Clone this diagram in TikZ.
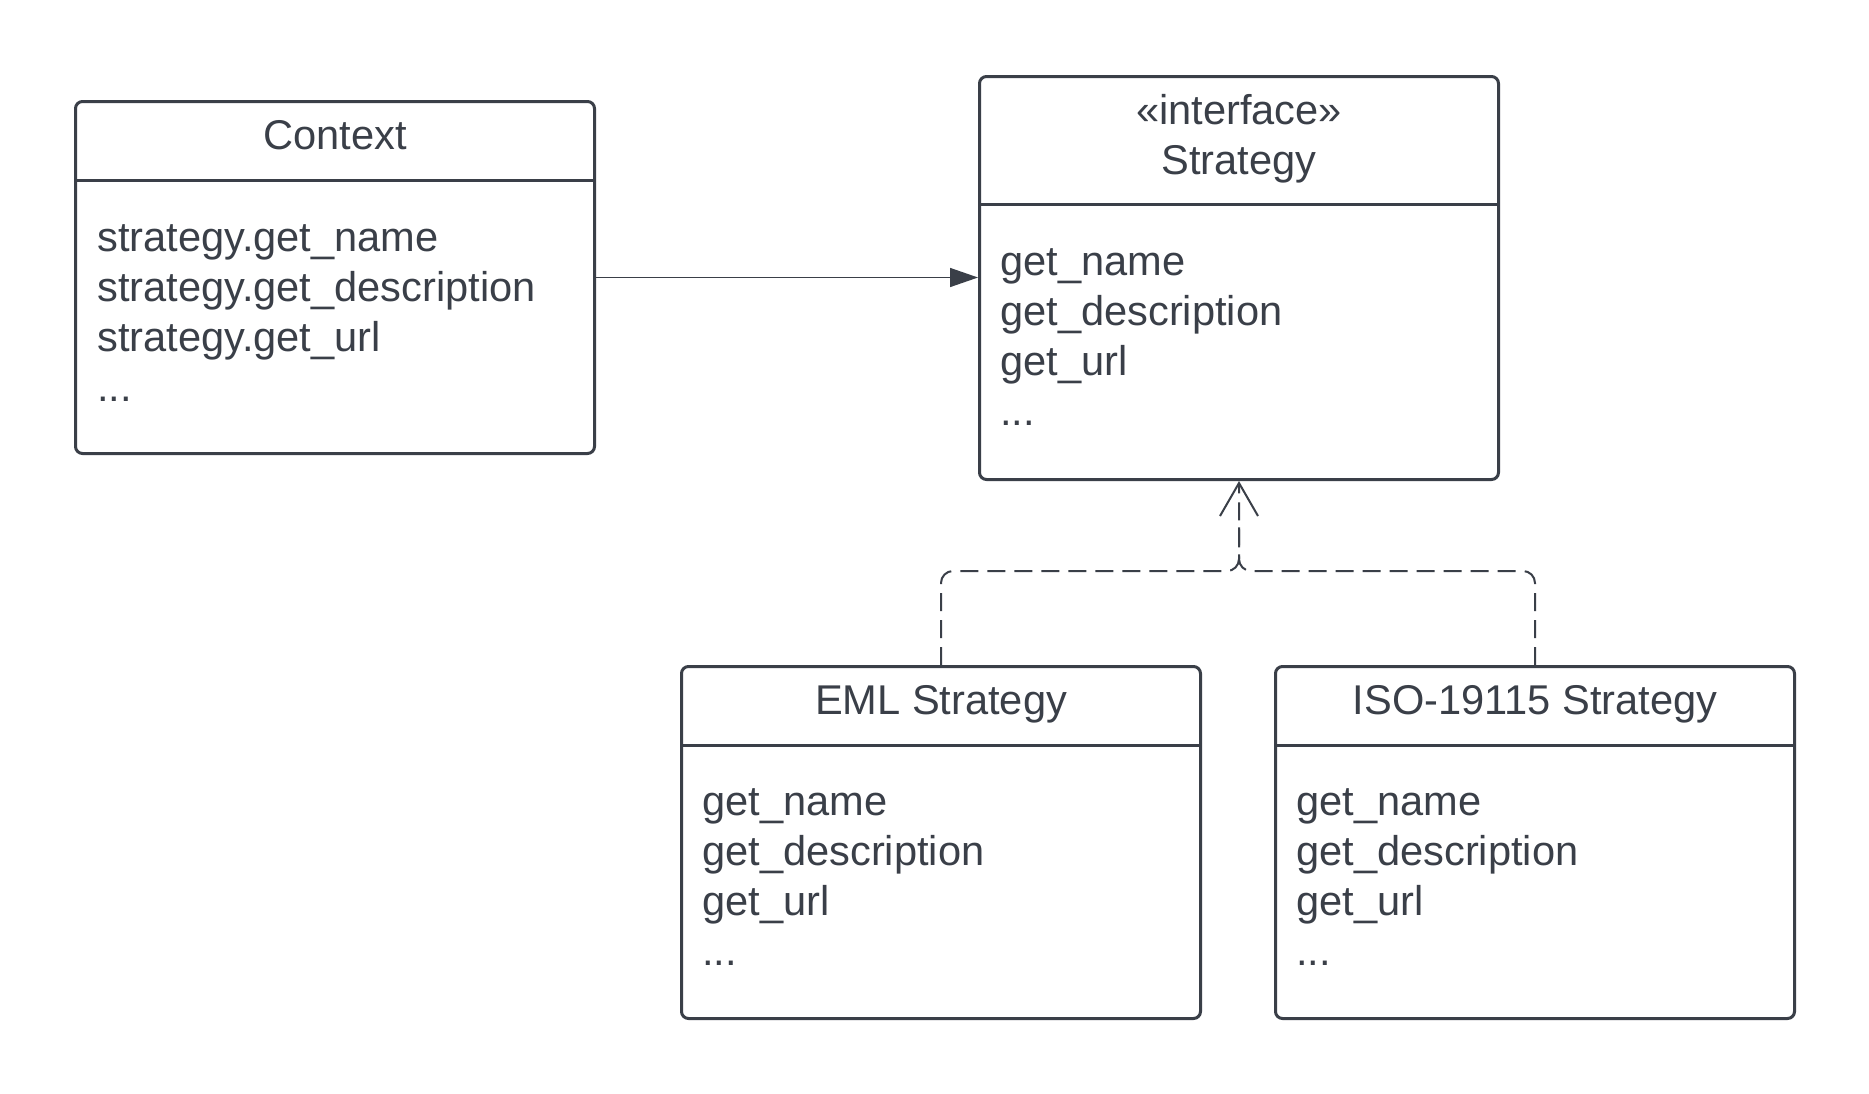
\documentclass[tikz,border=0pt]{standalone}
\usepackage{fontspec}
\setmainfont{Liberation Sans}
\usetikzlibrary{arrows.meta}

\definecolor{umlgray}{RGB}{58,63,72}

\tikzset{
	classbox/.style={draw=umlgray, line width=3pt, rounded corners=7pt, minimum width=519pt, minimum height=352pt, anchor=north west, inner sep=0pt},
	boxline/.style={draw=umlgray, line width=3pt},
	classtitle/.style={text=umlgray, font=\fontsize{41.6}{50}\selectfont, anchor=base, inner sep=0pt},
	method/.style={text=umlgray, font=\fontsize{41.6}{50}\selectfont, anchor=base west, inner sep=0pt},
	assoc/.style={draw=umlgray, line width=1.5pt, -{Triangle[length=28pt, width=19pt]}},
	realize/.style={draw=umlgray, line width=2pt, dash pattern=on 18pt off 9pt, rounded corners=12pt}
}

\begin{document}
\begin{tikzpicture}[x=1pt, y=-1pt]
	\fill[white] (0,0) rectangle (1869,1093);
	\useasboundingbox (0,0) rectangle (1869,1093);

	% Context
	\node[classbox] (context) at (74,100) {};
	\draw[boxline] ([yshift=-80pt]context.north west) -- ([yshift=-80pt]context.north east);
	\node[classtitle] (context-title) at ([yshift=-49pt]context.north) {Context};
	\foreach \m [count=\i] in {strategy.get\_name, strategy.get\_description, strategy.get\_url}{
		\node[method] (context-m\i) at ([xshift=23pt, yshift={-151pt-(\i-1)*50pt}]context.north west) {\m};
	}
	\node[method] (context-dots) at ([xshift=23pt, yshift=-301pt]context.north west) {...};

	% Strategy interface
	\node[classbox, minimum height=403pt] (strategy) at (978,75) {};
	\draw[boxline] ([yshift=-129pt]strategy.north west) -- ([yshift=-129pt]strategy.north east);
	\node[classtitle] (strategy-stereo) at ([yshift=-49pt]strategy.north) {«interface»};
	\node[classtitle] (strategy-title) at ([yshift=-99pt]strategy.north) {Strategy};
	\foreach \m [count=\i] in {get\_name, get\_description, get\_url}{
		\node[method] (strategy-m\i) at ([xshift=22pt, yshift={-200pt-(\i-1)*50pt}]strategy.north west) {\m};
	}
	\node[method] (strategy-dots) at ([xshift=22pt, yshift=-350pt]strategy.north west) {...};

	% EML Strategy
	\node[classbox] (eml) at (680,665) {};
	\draw[boxline] ([yshift=-80pt]eml.north west) -- ([yshift=-80pt]eml.north east);
	\node[classtitle] (eml-title) at ([yshift=-49pt]eml.north) {EML Strategy};
	\foreach \m [count=\i] in {get\_name, get\_description, get\_url}{
		\node[method] (eml-m\i) at ([xshift=22pt, yshift={-150pt-(\i-1)*50pt}]eml.north west) {\m};
	}
	\node[method] (eml-dots) at ([xshift=22pt, yshift=-300pt]eml.north west) {...};

	% ISO-19115 Strategy
	\node[classbox] (iso) at (1274,665) {};
	\draw[boxline] ([yshift=-80pt]iso.north west) -- ([yshift=-80pt]iso.north east);
	\node[classtitle] (iso-title) at ([yshift=-49pt]iso.north) {ISO-19115 Strategy};
	\foreach \m [count=\i] in {get\_name, get\_description, get\_url}{
		\node[method] (iso-m\i) at ([xshift=22pt, yshift={-150pt-(\i-1)*50pt}]iso.north west) {\m};
	}
	\node[method] (iso-dots) at ([xshift=22pt, yshift=-300pt]iso.north west) {...};

	% connectors
	\draw[assoc] (context.east) -- (context.east -| strategy.west);

	\coordinate (merge) at ([yshift=-90pt]strategy.south);
	\draw[realize] (iso.north) |- (merge) -- ([yshift=-40pt]strategy.south);
	\draw[realize, -{Straight Barb[length=33pt, width=38pt]}] (eml.north) |- (merge) -- (strategy.south);

\end{tikzpicture}
\end{document}
